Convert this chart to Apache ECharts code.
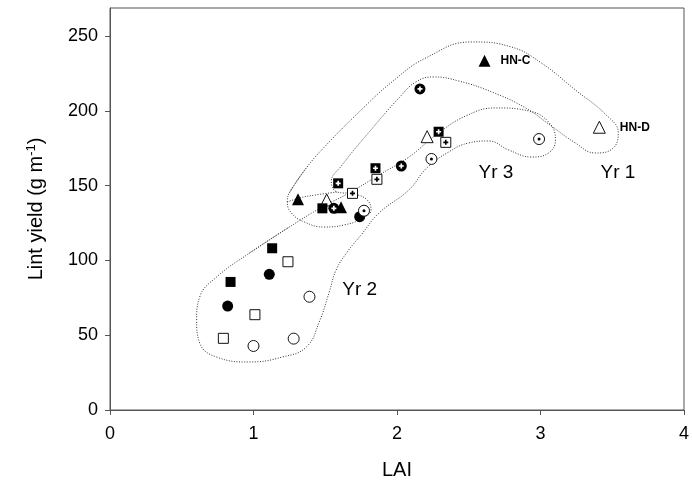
<!DOCTYPE html>
<html>
<head>
<meta charset="utf-8">
<script src="https://cdn.jsdelivr.net/npm/echarts@6/dist/echarts.min.js"></script>
<style>
  html, body { margin: 0; padding: 0; background: #fff; }
  #chart { width: 692px; height: 495px; }
</style>
</head>
<body>
<div id="chart"></div>
<script>
// LAI vs lint yield, three seasons, two hybrids (HN-C filled, HN-D open)
const yTicks = [0, 50, 100, 150, 200, 250];
const xTicks = [0, 1, 2, 3, 4];

// Year 1: triangles
const yr1HNC = [[1.31, 140.8], [1.61, 135.5], [2.61, 233.5]];
const yr1HND = [[1.51, 140.4], [2.21, 182.7], [3.41, 189.0]];
// Year 2: squares and circles
const yr2SqHNC = [[0.84, 85.6], [1.13, 108.1], [1.48, 134.8]];
const yr2SqHND = [[0.79, 47.9], [1.01, 63.7], [1.24, 99.1]];
const yr2CiHNC = [[0.82, 69.5], [1.11, 90.7], [1.74, 129.2]];
const yr2CiHND = [[1.00, 42.8], [1.28, 47.7], [1.39, 75.7]];
// Year 3: squares and circles with a centre mark
const yr3SqHNC = [[1.59, 151.5], [1.85, 161.6], [2.29, 186.0]];
const yr3SqHND = [[1.69, 144.8], [1.86, 154.2], [2.34, 178.9]];
const yr3CiHNC = [[1.56, 134.8], [2.03, 163.1], [2.16, 214.6]];
const yr3CiHND = [[1.77, 133.2], [2.24, 167.8], [2.99, 181.1]];

// Dotted outlines grouping each season (LAI, yield)
const outlineA = [
  [0.972, 104.9], [1.25, 122.3], [1.479, 135.7], [1.667, 145.1], [1.875, 157.1],
  [2.083, 169.1], [2.271, 183.8], [2.479, 196.5], [2.688, 201.9], [2.917, 199.9],
  [3.056, 192.5], [3.104, 180.5], [3.056, 171.8], [2.938, 169.1], [2.778, 173.8],
  [2.639, 179.8], [2.5, 178.5], [2.361, 172.5], [2.208, 161.8], [2.083, 147.1],
  [1.875, 131.7], [1.75, 117.0], [1.653, 105.6], [1.576, 93.6], [1.528, 78.9],
  [1.458, 58.8], [1.368, 42.1], [1.201, 35.4], [0.972, 32.1], [0.743, 35.4],
  [0.625, 44.8], [0.604, 60.2], [0.625, 75.5], [0.743, 88.9], [0.972, 104.9],
  [1.25, 122.3]
];
const outlineB = [
  [1.25, 145.1], [1.368, 161.8], [1.507, 177.1], [1.736, 199.2], [1.965, 219.3],
  [2.201, 235.3], [2.521, 246.0], [2.799, 242.6], [3.007, 231.9], [3.243, 213.9],
  [3.458, 197.2], [3.542, 185.2], [3.5, 174.5], [3.382, 171.8], [3.243, 178.5],
  [3.076, 189.8], [2.896, 201.9], [2.660, 212.6], [2.431, 219.9], [2.257, 222.6],
  [2.132, 219.3], [2.014, 208.6], [1.806, 185.8], [1.618, 163.8], [1.542, 152.4],
  [1.583, 145.7], [1.701, 144.4], [1.792, 140.4], [1.819, 133.7], [1.75, 127.7],
  [1.632, 123.7], [1.493, 122.3], [1.354, 125.7], [1.264, 131.7], [1.236, 139.0],
  [1.25, 145.1], [1.368, 161.8]
];
const outlineC = [[1.236, 139.0], [1.319, 141.7], [1.431, 143.7], [1.583, 145.7]];

// Season tags
const tagText = ['Yr 1', 'Yr 2', 'Yr 3'];
const tagAt = [[3.54, 158.4], [1.74, 80.2], [2.69, 158.4]];

const FONT = '"Liberation Sans", Arial, sans-serif';
const INK = '#000';
const plus = 'path://M2,0H4V2H6V4H4V6H2V4H0V2H2Z';

function outline(data) {
  return {
    type: 'line', data: data, smooth: 0.45, symbol: 'none', silent: true, z: 1,
    lineStyle: { color: '#333', width: 1, type: [1, 1.6] }
  };
}
function pts(data, symbol, size, filled, extra) {
  return Object.assign({
    type: 'scatter', data: data, symbol: symbol, symbolSize: size, z: 3,
    itemStyle: filled
      ? { color: INK, borderColor: INK, borderWidth: 0, opacity: 1 }
      : { color: '#fff', borderColor: '#111', borderWidth: 1, opacity: 1 }
  }, extra || {});
}
function mark(data, size, color) {
  return { type: 'scatter', data: data, symbol: plus, symbolSize: size, z: 4, silent: true,
    itemStyle: { color: color, opacity: 1 } };
}
function dot(data, size) {
  return { type: 'scatter', data: data, symbol: 'circle', symbolSize: size, z: 4, silent: true,
    itemStyle: { color: INK, opacity: 1 } };
}
function hybridLabel(text, dist) {
  return {
    show: true, position: 'right', distance: dist, color: INK,
    fontFamily: FONT, fontSize: 12, fontWeight: 'bold',
    formatter: (p) => (p.dataIndex === 2 ? text : '')
  };
}

const chart = echarts.init(document.getElementById('chart'), null, { renderer: 'canvas' });
chart.setOption({
  animation: false,
  backgroundColor: '#fff',
  grid: { left: 110, right: 6, top: 8, bottom: 85, show: true, borderColor: '#555', borderWidth: 1, backgroundColor: 'transparent' },
  xAxis: {
    type: 'value', min: 0, max: 4, interval: 1,
    name: 'LAI', nameLocation: 'middle', nameGap: 50,
    nameTextStyle: { fontFamily: FONT, fontSize: 20, color: INK },
    axisLine: { show: true, lineStyle: { color: '#555', width: 1 } },
    axisTick: { show: true, inside: false, length: 5, lineStyle: { color: '#555' }, customValues: xTicks },
    axisLabel: { fontFamily: FONT, fontSize: 18, color: INK, margin: 15, customValues: xTicks },
    splitLine: { show: false }
  },
  yAxis: {
    type: 'value', min: 0, max: 268.7, interval: 50,
    name: '{a|Lint yield (g m}{s|-1}{a|)}', nameLocation: 'middle', nameGap: 62, nameRotate: 90,
    nameTextStyle: {
      rich: {
        a: { fontFamily: FONT, fontSize: 20, color: INK },
        s: { fontFamily: FONT, fontSize: 13, color: INK, verticalAlign: 'bottom', padding: [0, 0, 10, 0] }
      }
    },
    axisLine: { show: true, lineStyle: { color: '#555', width: 1 } },
    axisTick: { show: true, inside: false, length: 5, lineStyle: { color: '#555' }, customValues: yTicks },
    axisLabel: { fontFamily: FONT, fontSize: 18, color: INK, margin: 12, customValues: yTicks },
    splitLine: { show: false }
  },
  series: [
    outline(outlineA),
    outline(outlineB),
    outline(outlineC),

    pts(yr1HNC, 'triangle', 12, true, { label: hybridLabel('HN-C', 10) }),
    pts(yr1HND, 'triangle', 12, false, { label: hybridLabel('HN-D', 14) }),

    pts(yr2SqHNC, 'rect', 10, true),
    pts(yr2SqHND, 'rect', 10, false),
    pts(yr2CiHNC, 'circle', 11, true),
    pts(yr2CiHND, 'circle', 11, false),

    pts(yr3SqHNC, 'rect', 10, true),
    mark(yr3SqHNC, 5, '#fff'),
    pts(yr3SqHND, 'rect', 10, false),
    mark(yr3SqHND, 5, INK),
    pts(yr3CiHNC, 'circle', 11, true),
    mark(yr3CiHNC, 5, '#fff'),
    pts(yr3CiHND, 'circle', 11, false),
    dot(yr3CiHND, 3),

    {
      type: 'scatter', silent: true, symbol: 'circle', symbolSize: 1, z: 5,
      itemStyle: { color: 'rgba(0,0,0,0)', opacity: 1 },
      data: tagAt.map((p, i) => ({ value: p, name: tagText[i] })),
      label: { show: true, position: 'inside', formatter: '{b}', fontFamily: FONT, fontSize: 19, color: INK, opacity: 1 }
    }
  ]
});
</script>
</body>
</html>
